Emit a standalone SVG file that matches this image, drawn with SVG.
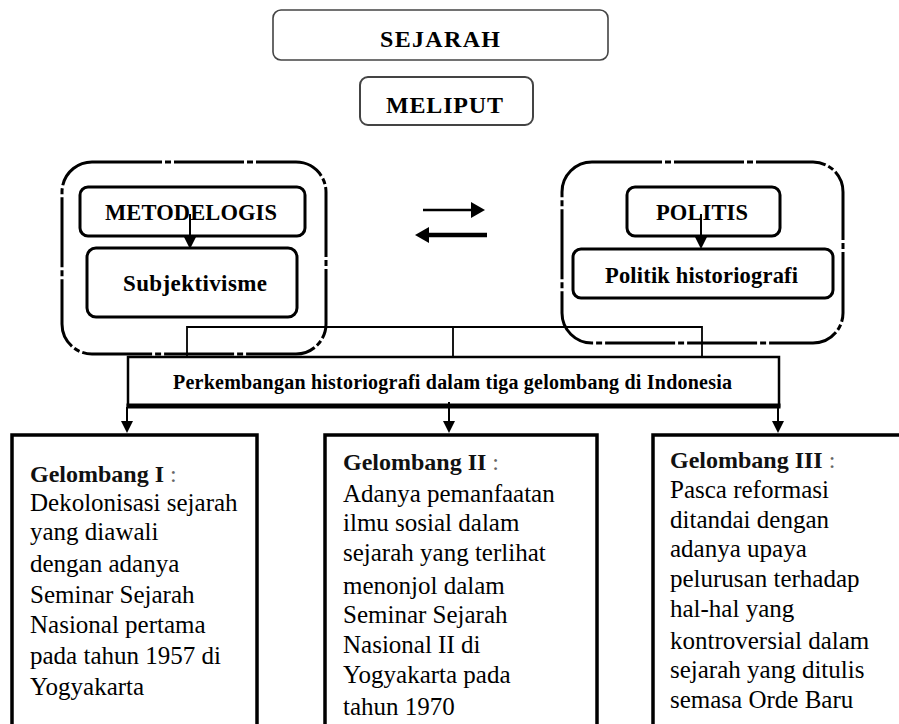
<svg xmlns="http://www.w3.org/2000/svg" width="899" height="724" viewBox="0 0 899 724">
<style>
.bg{fill:#fff}
.top{fill:#fff;stroke:#444;stroke-width:1.6}
.outer{fill:none;stroke:#000;stroke-width:3;stroke-dasharray:70 3 6 3}
.inner{fill:#fff;stroke:#000;stroke-width:3}
.wave{fill:#fff;stroke:#000;stroke-width:3.5}
.hb{font-family:"Liberation Serif",serif;font-weight:bold;fill:#000}
.body{font-family:"Liberation Serif",serif;font-size:25px;fill:#000}
.head{font-family:"Liberation Serif",serif;font-size:24px;font-weight:bold;fill:#111}
.col{font-weight:normal;fill:#666}
.conn{fill:none;stroke:#000;stroke-width:1.8}
</style>
<defs>
<marker id="arr" viewBox="0 0 12 12" refX="4" refY="6" markerWidth="12" markerHeight="12" markerUnits="userSpaceOnUse" orient="auto"><path d="M0,0 L12,6 L0,12 z" fill="#000"/></marker>
<marker id="arrH" viewBox="0 0 14 16" refX="4" refY="8" markerWidth="14" markerHeight="16" markerUnits="userSpaceOnUse" orient="auto"><path d="M0,0 L14,8 L0,16 z" fill="#000"/></marker>
</defs>
<rect class="bg" x="0" y="0" width="899" height="724"/>

<g id="sejarah">
<rect class="top" x="273" y="10" width="335" height="50" rx="8"/>
<text class="hb" x="380" y="47" font-size="24" textLength="120" lengthAdjust="spacing">SEJARAH</text>
</g>
<g id="meliput">
<rect class="top" x="360" y="77" width="173" height="48" rx="8" style="stroke-width:2"/>
<text class="hb" x="386" y="113" font-size="24" textLength="117" lengthAdjust="spacing">MELIPUT</text>
</g>

<g id="metodelogis-group">
<rect class="outer" x="62" y="162" width="264" height="192" rx="30"/>
</g>
<g id="politis-group">
<rect class="outer" x="562" y="162" width="281" height="181" rx="30"/>
</g>

<g id="metodelogis">
<rect class="inner" x="80" y="187" width="225" height="49" rx="8"/>
<text class="hb" x="105" y="220" font-size="22.5" textLength="172" lengthAdjust="spacing">METODELOGIS</text>
</g>
<g id="subjektivisme">
<rect class="inner" x="87" y="248" width="210" height="69" rx="9"/>
<text class="hb" x="123" y="291" font-size="23" textLength="144" lengthAdjust="spacing">Subjektivisme</text>
</g>
<g id="politis">
<rect class="inner" x="627" y="187" width="153" height="49" rx="8"/>
<text class="hb" x="656" y="220" font-size="22.5" textLength="92" lengthAdjust="spacing">POLITIS</text>
</g>
<g id="politik-historiografi">
<rect class="inner" x="573" y="249" width="260" height="49" rx="8"/>
<text class="hb" x="605" y="283" font-size="22.5" textLength="193" lengthAdjust="spacing">Politik historiografi</text>
</g>

<g id="perkembangan">
<rect x="128" y="357" width="651" height="49" fill="#fff" stroke="#000" stroke-width="2.5"/>
<line x1="126.5" y1="406" x2="780.5" y2="406" stroke="#000" stroke-width="5"/>
<text class="hb" x="173" y="389" font-size="20" textLength="559" lengthAdjust="spacing">Perkembangan historiografi dalam tiga gelombang di Indonesia</text>
</g>

<g id="gelombang-1">
<rect class="wave" x="12" y="435" width="245" height="320"/>
<text class="head" x="30" y="482">Gelombang I <tspan class="col">:</tspan></text>
<text class="body" x="30" y="511">Dekolonisasi sejarah</text>
<text class="body" x="30" y="540">yang diawali</text>
<text class="body" x="30" y="572">dengan adanya</text>
<text class="body" x="30" y="603">Seminar Sejarah</text>
<text class="body" x="30" y="633">Nasional pertama</text>
<text class="body" x="30" y="664">pada tahun 1957 di</text>
<text class="body" x="30" y="695">Yogyakarta</text>
</g>
<g id="gelombang-2">
<rect class="wave" x="325" y="435" width="272" height="320"/>
<text class="head" x="343" y="470">Gelombang II <tspan class="col">:</tspan></text>
<text class="body" x="343" y="502">Adanya pemanfaatan</text>
<text class="body" x="343" y="531">ilmu sosial dalam</text>
<text class="body" x="343" y="561">sejarah yang terlihat</text>
<text class="body" x="343" y="594">menonjol dalam</text>
<text class="body" x="343" y="623">Seminar Sejarah</text>
<text class="body" x="343" y="653">Nasional II di</text>
<text class="body" x="343" y="683">Yogyakarta pada</text>
<text class="body" x="343" y="715">tahun 1970</text>
</g>
<g id="gelombang-3">
<rect class="wave" x="653" y="435" width="260" height="320"/>
<text class="head" x="670" y="468">Gelombang III <tspan class="col">:</tspan></text>
<text class="body" x="670" y="498">Pasca reformasi</text>
<text class="body" x="670" y="528">ditandai dengan</text>
<text class="body" x="670" y="557">adanya upaya</text>
<text class="body" x="670" y="587">pelurusan terhadap</text>
<text class="body" x="670" y="617">hal-hal yang</text>
<text class="body" x="670" y="649">kontroversial dalam</text>
<text class="body" x="670" y="678">sejarah yang ditulis</text>
<text class="body" x="670" y="708">semasa Orde Baru</text>
</g>

<g id="connectors">
<line class="conn" x1="190" y1="214" x2="190" y2="241" style="stroke-width:2" marker-end="url(#arr)"/>
<line class="conn" x1="701" y1="214" x2="701" y2="241" style="stroke-width:2" marker-end="url(#arr)"/>
<line class="conn" x1="423" y1="210" x2="475" y2="210" style="stroke-width:2.5" marker-end="url(#arrH)"/>
<line class="conn" x1="487" y1="235" x2="425" y2="235" style="stroke-width:4.5" marker-end="url(#arrH)"/>
<path class="conn" d="M187,357 V327 H702 V357 M453,327 V357"/>
<line class="conn" x1="127" y1="407" x2="127" y2="425" style="stroke-width:2" marker-end="url(#arr)"/>
<line class="conn" x1="449" y1="402" x2="449" y2="425" style="stroke-width:2" marker-end="url(#arr)"/>
<line class="conn" x1="778" y1="407" x2="778" y2="425" style="stroke-width:2" marker-end="url(#arr)"/>
</g>
</svg>
